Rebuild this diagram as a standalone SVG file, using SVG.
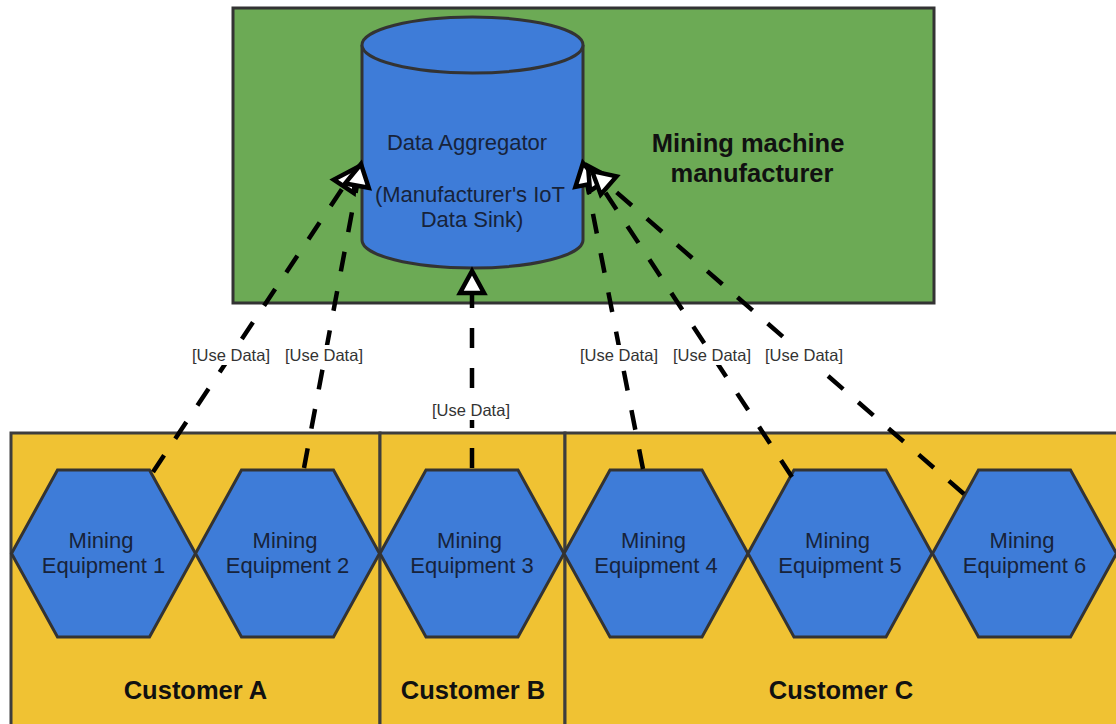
<svg xmlns="http://www.w3.org/2000/svg" width="1116" height="724" viewBox="0 0 1116 724">
  <defs>
    <style>
      .zone-green { fill: #6CAA55; stroke: #333333; stroke-width: 3; }
      .zone-yellow { fill: #F0C233; stroke: #3d3d3d; stroke-width: 3; }
      .shape { fill: #3E7CD8; stroke: #333333; stroke-width: 3; }
      .txt { font-family: "Liberation Sans", Arial, sans-serif; font-size: 22px; fill: #17233a; text-anchor: middle; }
      .bold { font-family: "Liberation Sans", Arial, sans-serif; font-size: 25.5px; font-weight: bold; fill: #111111; text-anchor: middle; }
      .edge { fill: none; stroke: #000000; stroke-width: 4.5; stroke-dasharray: 20 20; marker-end: url(#hollow); }
      .lbl-bg { fill: #ffffff; }
      .lbl { font-family: "Liberation Sans", Arial, sans-serif; font-size: 16.5px; fill: #333333; text-anchor: middle; }
    </style>
    <marker id="hollow" markerUnits="userSpaceOnUse" viewBox="-30 -18 34 36" refX="0" refY="0" markerWidth="34" markerHeight="36" orient="auto" overflow="visible">
      <path d="M0,0 L-22,-12 L-22,12 Z" fill="#ffffff" stroke="#000000" stroke-width="4.5" stroke-linejoin="miter" stroke-dasharray="none"/>
    </marker>
  </defs>

  <!-- manufacturer zone -->
  <g id="manufacturer">
    <rect class="zone-green" x="233" y="8" width="701" height="295"/>
    <text class="bold" x="748" y="152">Mining machine</text>
    <text class="bold" x="752" y="182">manufacturer</text>
  </g>

  <!-- customer zones -->
  <g id="customer-a">
    <rect class="zone-yellow" x="11" y="433" width="369" height="300"/>
    <text class="bold" x="195.5" y="699">Customer A</text>
  </g>
  <g id="customer-b">
    <rect class="zone-yellow" x="380" y="433" width="185" height="300"/>
    <text class="bold" x="473" y="699">Customer B</text>
  </g>
  <g id="customer-c">
    <rect class="zone-yellow" x="565" y="433" width="560" height="300"/>
    <text class="bold" x="841" y="699">Customer C</text>
  </g>

  <!-- data aggregator cylinder -->
  <g id="data-aggregator">
    <path class="shape" d="M362,45 L362,240 A110.5,28 0 0 0 583,240 L583,45 A110.5,28 0 0 0 362,45 Z"/>
    <path class="shape" d="M362,45 A110.5,28 0 0 0 583,45" fill="none"/>
    <text class="txt" x="467" y="150">Data Aggregator</text>
    <text class="txt" x="470" y="202">(Manufacturer's IoT</text>
    <text class="txt" x="472" y="227">Data Sink)</text>
  </g>

  <!-- equipment hexagons -->
  <g id="equipment-1">
    <polygon class="shape" points="11.5,553.5 57.5,470 149.5,470 195.5,553.5 149.5,637 57.5,637"/>
    <text class="txt" x="101" y="548">Mining</text>
    <text class="txt" x="103.5" y="573">Equipment 1</text>
  </g>
  <g id="equipment-2">
    <polygon class="shape" points="195.5,553.5 241.5,470 333.5,470 379.5,553.5 333.5,637 241.5,637"/>
    <text class="txt" x="285" y="548">Mining</text>
    <text class="txt" x="287.5" y="573">Equipment 2</text>
  </g>
  <g id="equipment-3">
    <polygon class="shape" points="380,553.5 426,470 518,470 564,553.5 518,637 426,637"/>
    <text class="txt" x="469.5" y="548">Mining</text>
    <text class="txt" x="472" y="573">Equipment 3</text>
  </g>
  <g id="equipment-4">
    <polygon class="shape" points="564,553.5 610,470 702,470 748,553.5 702,637 610,637"/>
    <text class="txt" x="653.5" y="548">Mining</text>
    <text class="txt" x="656" y="573">Equipment 4</text>
  </g>
  <g id="equipment-5">
    <polygon class="shape" points="748,553.5 794,470 886,470 932,553.5 886,637 794,637"/>
    <text class="txt" x="837.5" y="548">Mining</text>
    <text class="txt" x="840" y="573">Equipment 5</text>
  </g>
  <g id="equipment-6">
    <polygon class="shape" points="932.5,553.5 978.5,470 1070.5,470 1116.5,553.5 1070.5,637 978.5,637"/>
    <text class="txt" x="1022" y="548">Mining</text>
    <text class="txt" x="1024.5" y="573">Equipment 6</text>
  </g>

  <!-- data flows from equipment to aggregator -->
  <g id="connectors">
    <path class="edge" d="M153,472 L356,168"/>
    <path class="edge" d="M304,468 L361,164"/>
    <path class="edge" d="M472,468 L472,271"/>
    <path class="edge" d="M643,469 L583,163"/>
    <path class="edge" d="M792,477 L588,166"/>
    <path class="edge" d="M964,494 L592,171"/>

    <g id="edge-labels">
      <rect class="lbl-bg" x="189" y="345" width="84" height="20"/>
      <text class="lbl" x="231" y="361">[Use Data]</text>
      <rect class="lbl-bg" x="282" y="345" width="84" height="20"/>
      <text class="lbl" x="324" y="361">[Use Data]</text>
      <rect class="lbl-bg" x="429" y="400" width="84" height="20"/>
      <text class="lbl" x="471" y="416">[Use Data]</text>
      <rect class="lbl-bg" x="577" y="345" width="84" height="20"/>
      <text class="lbl" x="619" y="361">[Use Data]</text>
      <rect class="lbl-bg" x="670" y="345" width="84" height="20"/>
      <text class="lbl" x="712" y="361">[Use Data]</text>
      <rect class="lbl-bg" x="762" y="345" width="84" height="20"/>
      <text class="lbl" x="804" y="361">[Use Data]</text>
    </g>
  </g>
</svg>
